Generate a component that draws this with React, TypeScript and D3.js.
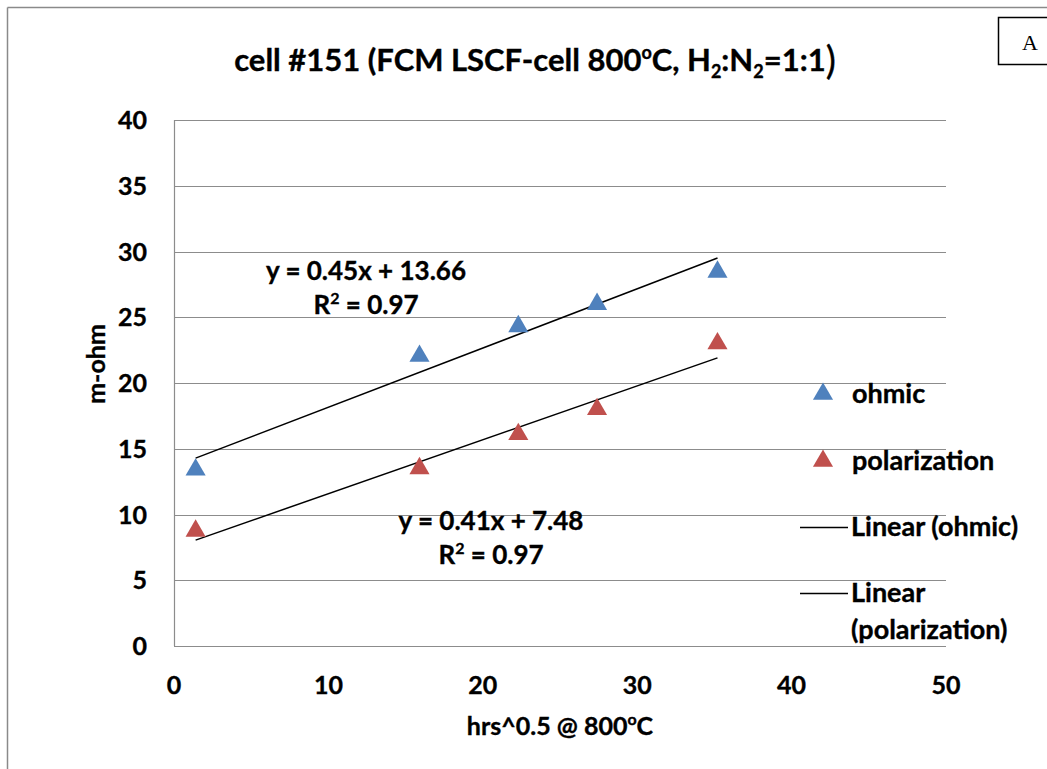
import React from "react";
import * as d3 from "d3";

const xHours = [1.4, 15.9, 22.3, 27.4, 35.2];
const ohmic = [13.4, 22.05, 24.3, 26.0, 28.45];
const polarization = [8.75, 13.5, 16.1, 18.0, 23.0];
const trendSlopes = [0.45, 0.41];
const trendIntercepts = [13.66, 7.48];
const xTicks = [0, 10, 20, 30, 40, 50];
const yTicks = [0, 5, 10, 15, 20, 25, 30, 35, 40];
const seriesNames = ["ohmic", "polarization"];
const seriesColors = ["#4F81BD", "#C0504D"];

const W = 1047;
const H = 769;
const FONT = "Lato, 'Open Sans', sans-serif";
const FS = 25;
const LFS = 27;
const BOLD = { fontWeight: "bold" as const, stroke: "#000", strokeWidth: 0.35 };

export default function App() {
  const x = d3.scaleLinear().domain([0, 50]).range([174, 946]);
  const y = d3.scaleLinear().domain([0, 40]).range([646, 120]);
  const tri = d3.symbol().type(d3.symbolTriangle).size(175);
  const triPath = tri() as string;
  const series = [ohmic, polarization];
  const xMin = d3.min(xHours) as number;
  const xMax = d3.max(xHours) as number;
  const line = d3
    .line<number[]>()
    .x((d) => x(d[0]))
    .y((d) => y(d[1]));

  const eqLabels = [
    { eq: "y = 0.45x + 13.66", r: "0.97", cx: 366, cy: 280 },
    { eq: "y = 0.41x + 7.48", r: "0.97", cx: 491, cy: 530 },
  ];

  return (
    <svg
      width={W}
      height={H}
      style={{ position: "absolute", left: 0, top: 0, background: "#fff" }}
      fontFamily={FONT}
    >
      <rect x={0} y={0} width={W} height={H} fill="#fff" />
      {/* outer frame */}
      <line x1={7.5} y1={7.5} x2={W} y2={7.5} stroke="#8a8a8a" strokeWidth={1.5} />
      <line x1={7.5} y1={7.5} x2={7.5} y2={H} stroke="#8a8a8a" strokeWidth={1.5} />

      {/* A box */}
      <rect x={998.5} y={17.5} width={60} height={47} fill="#fff" stroke="#000" strokeWidth={1.5} />
      <text x={1030} y={50} fontFamily="'Liberation Serif', 'DejaVu Serif', serif" fontSize={22} textAnchor="middle">
        A
      </text>

      {/* title */}
      <text x={535} y={71} fontSize={31} {...BOLD} textAnchor="middle" fill="#000">
        <tspan>cell #151 (FCM LSCF-cell 800</tspan>
        <tspan fontSize={18} dy={-12}>o</tspan>
        <tspan dy={12}>C, H</tspan>
        <tspan fontSize={18} dy={7}>2</tspan>
        <tspan dy={-7}>:N</tspan>
        <tspan fontSize={18} dy={7}>2</tspan>
        <tspan dy={-7}>=1:1</tspan>
        <tspan fontSize={38} fontWeight="normal" dy={3}>)</tspan>
      </text>

      {/* gridlines */}
      {yTicks.map((t) => (
        <line
          key={"g" + t}
          x1={x(0)}
          x2={x(50)}
          y1={Math.round(y(t)) + 0.5}
          y2={Math.round(y(t)) + 0.5}
          stroke="#8c8c8c"
          strokeWidth={1.2}
        />
      ))}
      <line x1={x(0) + 0.5} x2={x(0) + 0.5} y1={y(40)} y2={y(0)} stroke="#8c8c8c" strokeWidth={1.2} />

      {/* y tick labels */}
      {yTicks.map((t) => (
        <text key={"yl" + t} x={147} y={y(t)} dy="0.36em" textAnchor="end" fontSize={FS} {...BOLD}>
          {t}
        </text>
      ))}
      {/* x tick labels */}
      {xTicks.map((t) => (
        <text key={"xl" + t} x={x(t)} y={694} textAnchor="middle" fontSize={FS} {...BOLD}>
          {t}
        </text>
      ))}

      {/* axis titles */}
      <text transform={`translate(105,364) rotate(-90)`} textAnchor="middle" fontSize={FS} {...BOLD}>
        m-ohm
      </text>
      <text x={560} y={735} textAnchor="middle" fontSize={FS} {...BOLD}>
        <tspan>hrs^0.5 @ 800</tspan>
        <tspan fontSize={16} dy={-10}>o</tspan>
        <tspan dy={10}>C</tspan>
      </text>

      {/* trendlines */}
      {trendSlopes.map((m, i) => (
        <path
          key={"tl" + i}
          d={
            line([
              [xMin, m * xMin + trendIntercepts[i]],
              [xMax, m * xMax + trendIntercepts[i]],
            ]) as string
          }
          stroke="#000"
          strokeWidth={1.5}
          fill="none"
        />
      ))}

      {/* markers */}
      {series.map((vals, si) =>
        vals.map((v, i) => (
          <path
            key={"m" + si + "-" + i}
            d={triPath}
            transform={`translate(${x(xHours[i])},${y(v)})`}
            fill={seriesColors[si]}
          />
        ))
      )}

      {/* equation labels */}
      {eqLabels.map((e, i) => (
        <g key={"eq" + i} fontSize={FS + 1} {...BOLD}>
          <text x={e.cx} y={e.cy} textAnchor="middle">
            {e.eq}
          </text>
          <text x={e.cx} y={e.cy + 34} textAnchor="middle">
            <tspan>R</tspan>
            <tspan fontSize={16} dy={-10}>2</tspan>
            <tspan dy={10}>{" = " + e.r}</tspan>
          </text>
        </g>
      ))}

      {/* legend */}
      {seriesNames.map((n, i) => (
        <g key={"lg" + i}>
          <path d={triPath} transform={`translate(823,${394 + i * 67})`} fill={seriesColors[i]} />
          <text x={852} y={394 + i * 67} dy="0.35em" fontSize={LFS} {...BOLD}>
            {n}
          </text>
        </g>
      ))}
      <line x1={800} x2={848} y1={527.5} y2={527.5} stroke="#000" strokeWidth={1.5} />
      <text x={851} y={527} dy="0.35em" fontSize={LFS} {...BOLD}>
        Linear (ohmic)
      </text>
      <line x1={800} x2={848} y1={593.5} y2={593.5} stroke="#000" strokeWidth={1.5} />
      <text x={851} y={593} dy="0.35em" fontSize={LFS} {...BOLD}>
        Linear
      </text>
      <text x={851} y={630} dy="0.35em" fontSize={LFS} {...BOLD}>
        (polarization)
      </text>
    </svg>
  );
}
